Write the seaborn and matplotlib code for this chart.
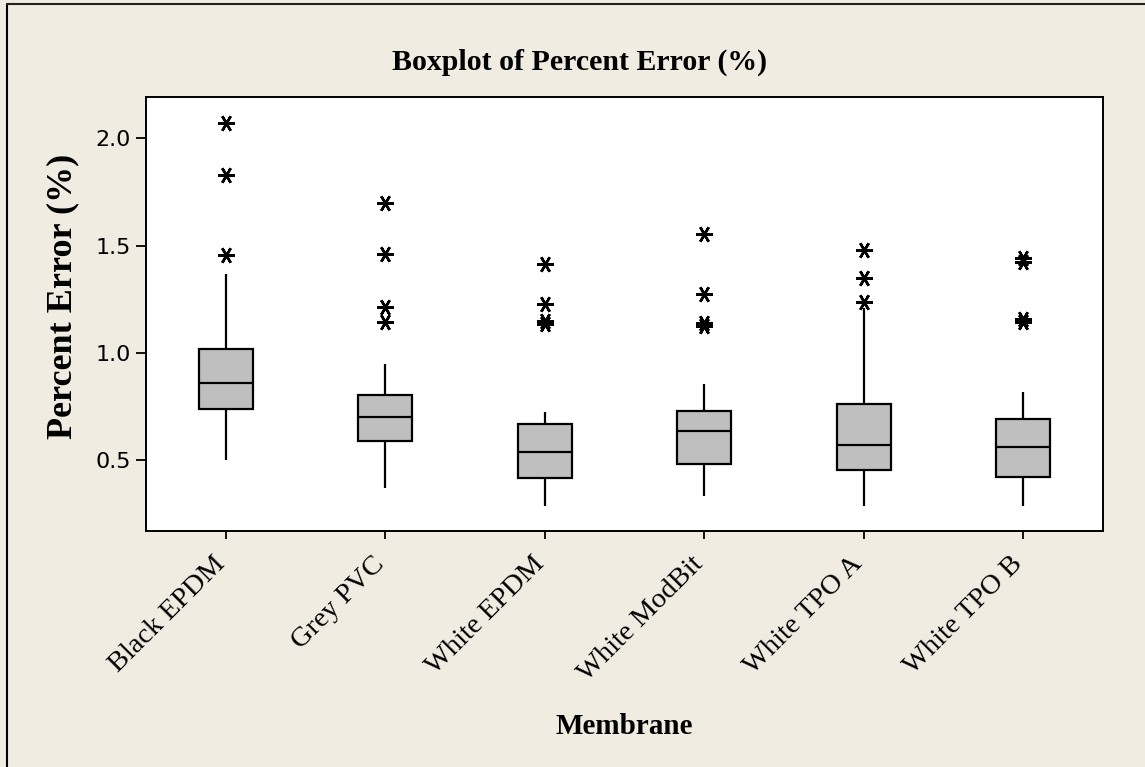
import numpy as np
import pandas as pd
import matplotlib
matplotlib.use("Agg")
import matplotlib.pyplot as plt
import seaborn as sns
from matplotlib.lines import Line2D

# ---- data (summary of each membrane) ----
membranes = ["Black EPDM", "Grey PVC", "White EPDM", "White ModBit", "White TPO A", "White TPO B"]
whisker_low = [0.500, 0.369, 0.287, 0.330, 0.287, 0.287]
q1 = [0.740, 0.590, 0.416, 0.480, 0.453, 0.423]
medians = [0.859, 0.701, 0.536, 0.636, 0.571, 0.562]
q3 = [1.019, 0.805, 0.666, 0.729, 0.759, 0.692]
whisker_high = [1.366, 0.949, 0.725, 0.856, 1.209, 0.817]
outliers = [
    [1.456, 1.830, 2.074],
    [1.142, 1.212, 1.459, 1.699],
    [1.135, 1.147, 1.227, 1.416],
    [1.127, 1.139, 1.276, 1.552],
    [1.238, 1.348, 1.478],
    [1.142, 1.160, 1.425, 1.443],
]
y_ticks = [0.5, 1.0, 1.5, 2.0]

# Build a sample per membrane whose quartiles / whiskers / outliers equal the values above
m = 5
rows = []
for i, name in enumerate(membranes):
    vals = ([whisker_low[i]] + [q1[i]] * m + [medians[i]] * m + [q3[i]] * m
            + [whisker_high[i]] * (m - len(outliers[i])) + outliers[i])
    for v in vals:
        rows.append((name, v))
df = pd.DataFrame(rows, columns=["Membrane", "Percent Error (%)"])

BG = "#F0ECE2"
sns.set_theme(style="ticks")
plt.rcParams["font.family"] = ["DejaVu Sans"]
plt.rcParams["text.color"] = "black"
plt.rcParams["xtick.color"] = "black"
plt.rcParams["ytick.color"] = "black"
plt.rcParams["xtick.labelcolor"] = "black"
plt.rcParams["ytick.labelcolor"] = "black"

fig = plt.figure(figsize=(11.45, 7.67), dpi=100, facecolor=BG)
ax = fig.add_axes([146 / 1145, 1 - 531 / 767, (1103 - 146) / 1145, (531 - 97) / 767])
ax.set_facecolor("white")

sns.boxplot(
    data=df, x="Membrane", y="Percent Error (%)", order=membranes,
    color="#BFBFBF", saturation=1, width=0.34, linewidth=1.6, linecolor="black",
    showcaps=False,
    flierprops=dict(marker=(6, 2, 90), markersize=12, markeredgecolor="black",
                    markerfacecolor="black", markeredgewidth=1.8),
    medianprops=dict(color="black", linewidth=1.6),
    ax=ax,
)

ax.set_xlim(-0.5, 5.5)
ax.set_ylim(0.169, 2.193)
ax.set_yticks(y_ticks)
ax.set_yticklabels([f"{t:.1f}" for t in y_ticks], fontsize=16, family="DejaVu Sans", color="black")
ax.set_xticks(range(len(membranes)))
ax.set_xticklabels(membranes, fontsize=20.5, family="Liberation Serif", color="black",
                   rotation=45, ha="right", va="baseline", rotation_mode="anchor")
ax.tick_params(axis="y", direction="out", length=7, width=1.3, pad=4, colors="black")
ax.tick_params(axis="x", direction="out", length=6, width=1.3, pad=18.5, colors="black")
ax.set_xlabel("")
ax.set_ylabel("")
for s in ax.spines.values():
    s.set_visible(True)
    s.set_color("black")
    s.set_linewidth(1.4)

fig.text(580 / 1145, 1 - 70 / 767, "Boxplot of Percent Error (%)", ha="center", va="baseline",
         fontsize=21.5, fontweight="bold", family="Liberation Serif", color="black")
fig.text(63 / 1145, 1 - 296 / 767, "Percent Error (%)", rotation=90, ha="center", va="center",
         fontsize=26, fontweight="bold", family="Liberation Serif", color="black")
fig.text(624 / 1145, 1 - 734 / 767, "Membrane", ha="center", va="baseline",
         fontsize=21, fontweight="bold", family="Liberation Serif", color="black")

# outer frame (left and top edges)
fig.add_artist(Line2D([7 / 1145, 7 / 1145], [0, 1 - 4 / 767], transform=fig.transFigure,
                      color="black", linewidth=1.5))
fig.add_artist(Line2D([7 / 1145, 1], [1 - 4 / 767, 1 - 4 / 767], transform=fig.transFigure,
                      color="#222222", linewidth=1.5))

fig.savefig("out.png", dpi=100, facecolor=BG)
